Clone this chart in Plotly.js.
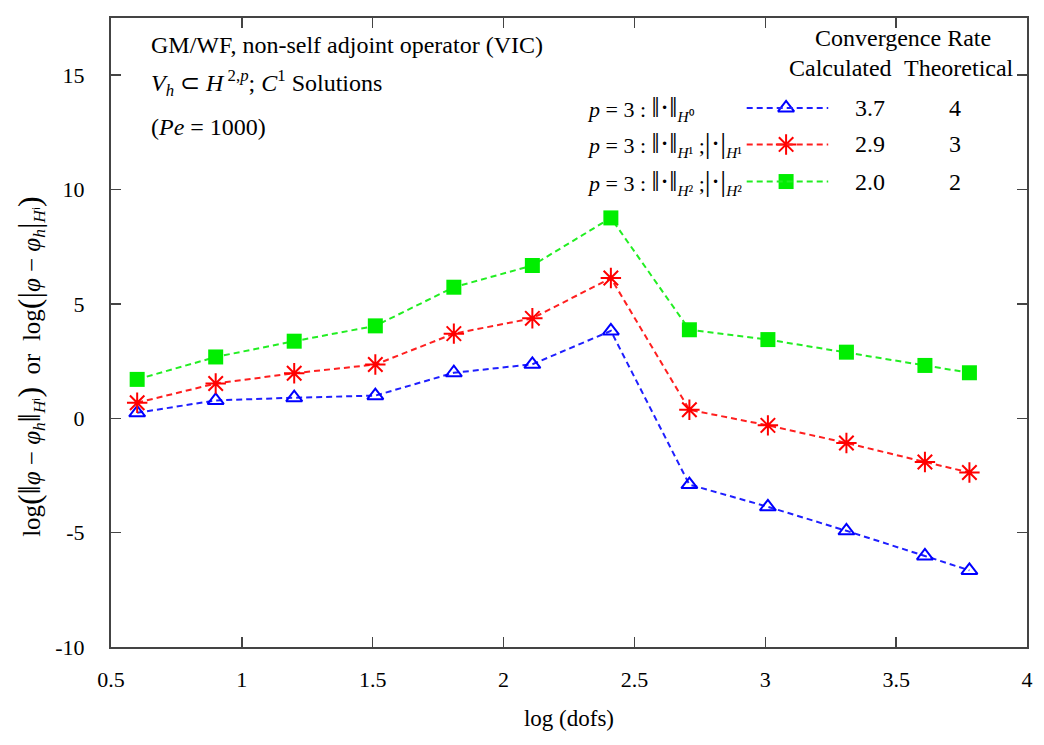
<!DOCTYPE html>
<html><head><meta charset="utf-8">
<script src="https://cdn.plot.ly/plotly-3.0.1.min.js"></script>
<style>html,body{margin:0;padding:0;background:#fff}#chart{width:1044px;height:745px}</style>
</head><body><div id="chart"></div>
<script>
// ---- data ----
const logDofs = [0.60, 0.90, 1.20, 1.51, 1.81, 2.11, 2.41, 2.71, 3.01, 3.31, 3.61, 3.78];
const errH0 = [0.24, 0.78, 0.90, 0.99, 1.99, 2.36, 3.82, -2.90, -3.87, -4.92, -6.02, -6.65];
const errH1 = [0.68, 1.52, 1.97, 2.35, 3.70, 4.37, 6.13, 0.37, -0.31, -1.08, -1.91, -2.37];
const errH2 = [1.70, 2.68, 3.37, 4.04, 5.73, 6.68, 8.76, 3.87, 3.44, 2.89, 2.31, 1.99];
const BARS = s => '<span style="font-size:29px">' + s + '</span>';
const seriesLabels = [
  '<i>p</i> = 3 : ' + BARS('‖·‖') + '<sub><i>H</i>⁰</sub>',
  '<i>p</i> = 3 : ' + BARS('‖·‖') + '<sub><i>H</i>¹</sub> ;' + BARS('|·|') + '<sub><i>H</i>¹</sub>',
  '<i>p</i> = 3 : ' + BARS('‖·‖') + '<sub><i>H</i>²</sub> ;' + BARS('|·|') + '<sub><i>H</i>²</sub>'
];
const rateCalculated = ['3.7', '2.9', '2.0'];
const rateTheoretical = ['4', '3', '2'];
const xTickVals = [0.5, 1, 1.5, 2, 2.5, 3, 3.5, 4];
const xTickText = ['0.5', '1', '1.5', '2', '2.5', '3', '3.5', '4'];
const yTickVals = [-10, -5, 0, 5, 10, 15];
const yTickText = ['-10', '-5', '0', '5', '10', '15'];

// ---- styles ----
const FONT = '"Liberation Serif", "Times New Roman", serif';
const colors = ['#0000ff', '#ff0000', '#00ee00'];
const lineColors = ['#1f1fff', '#ff1f1f', '#22ee22'];
const markers = [
  {symbol: 'triangle-up-open', size: 14, color: colors[0], line: {color: colors[0], width: 2}},
  {symbol: 'asterisk-open', size: 17, color: colors[1], line: {color: colors[1], width: 2}},
  {symbol: 'square', size: 15, color: colors[2], line: {width: 0}}
];
const series = [errH0, errH1, errH2];
const DASH = '6px,4px';

// legend layout (paper coords)
const legRowY = [0.857, 0.799, 0.740];
const legLabelX = 0.518, legLineX0 = 0.694, legLineX1 = 0.783, legMarkX = 0.737;
const legCalcX = 0.829, legTheoX = 0.921;

const traces = series.map((ys, i) => ({
  x: logDofs, y: ys, type: 'scatter', mode: 'lines+markers',
  line: {color: lineColors[i], width: 2, dash: DASH},
  marker: markers[i], showlegend: false, hoverinfo: 'x+y'
}));
// legend sample markers on an overlay axis spanning the plot area in [0,1]
series.forEach((ys, i) => {
  traces.push({
    x: [legMarkX], y: [legRowY[i]], xaxis: 'x2', yaxis: 'y2', type: 'scatter', mode: 'markers',
    marker: markers[i], showlegend: false, hoverinfo: 'skip'
  });
});

const annotations = [];
const txt = (text, x, y, xanchor, size, angle) => annotations.push({
  text, x, y, xref: 'paper', yref: 'paper', xanchor: xanchor || 'left', yanchor: 'middle',
  textangle: angle || 0,
  showarrow: false, font: {family: FONT, size: size || 24, color: '#000'}
});
txt('GM/WF, non-self adjoint operator (VIC)', 0.041, 0.957);
txt('<i>V<sub>h</sub></i> ⊂ <i>H</i><sup> 2,<i>p</i></sup>; <i>C</i><sup>1</sup> Solutions', 0.041, 0.897);
txt('(<i>Pe</i> = 1000)', 0.041, 0.827);
txt('Convergence Rate', 0.865, 0.968, 'center');
txt('Calculated', 0.796, 0.921, 'center');
txt('Theoretical', 0.926, 0.921, 'center');
const shapes = [];
seriesLabels.forEach((lab, i) => {
  txt(lab, legLabelX, legRowY[i], 'left', 22);
  txt(rateCalculated[i], legCalcX, legRowY[i], 'center');
  txt(rateTheoretical[i], legTheoX, legRowY[i], 'center');
  shapes.push({type: 'line', xref: 'paper', yref: 'paper', x0: legLineX0, x1: legLineX1,
    y0: legRowY[i], y1: legRowY[i], line: {color: lineColors[i], width: 2, dash: DASH}});
});

// y-axis title (rotated), drawn as an annotation so it can sit where the reference has it
const BIG = s => '<span style="font-size:32px">' + s + '</span>';
const yTitle = 'log' + BIG('(') + BIG('‖') + '<i>φ</i> − <i>φ<sub>h</sub></i>' + BIG('‖') + '<sub><i>H</i>ⁱ</sub>' + BIG(')') +
  '  or  log' + BIG('(') + BIG('|') + '<i>φ</i> − <i>φ<sub>h</sub></i>' + BIG('|') + '<sub><i>H</i>ⁱ</sub>' + BIG(')');
annotations.push({text: yTitle, x: -0.088, y: 0.446, xref: 'paper', yref: 'paper',
  xanchor: 'center', yanchor: 'middle', textangle: -90, showarrow: false,
  font: {family: FONT, size: 25, color: '#000'}});

const axisCommon = {
  showgrid: false, zeroline: false, showline: true, linecolor: '#444', linewidth: 2,
  mirror: 'ticks', ticks: 'inside', ticklen: 10, tickwidth: 1.5, tickcolor: '#444',
  tickfont: {family: FONT, size: 22, color: '#000'}
};

const layout = {
  width: 1044, height: 745,
  margin: {l: 111, r: 17, t: 18, b: 98},
  paper_bgcolor: '#fff', plot_bgcolor: '#fff',
  font: {family: FONT, color: '#000'},
  xaxis: Object.assign({}, axisCommon, {
    range: [0.5, 4], tickvals: xTickVals, ticktext: xTickText, ticklabelstandoff: 12,
    title: {text: 'log (dofs)', font: {family: FONT, size: 23}, standoff: 18}
  }),
  yaxis: Object.assign({}, axisCommon, {
    range: [-10, 17.5], tickvals: yTickVals, ticktext: yTickText, ticklabelstandoff: 20
  }),
  xaxis2: {overlaying: 'x', range: [0, 1], visible: false, fixedrange: true},
  yaxis2: {overlaying: 'y', range: [0, 1], visible: false, fixedrange: true},
  annotations, shapes, showlegend: false
};

Plotly.newPlot('chart', traces, layout, {displayModeBar: false, staticPlot: true});
</script>
</body></html>
